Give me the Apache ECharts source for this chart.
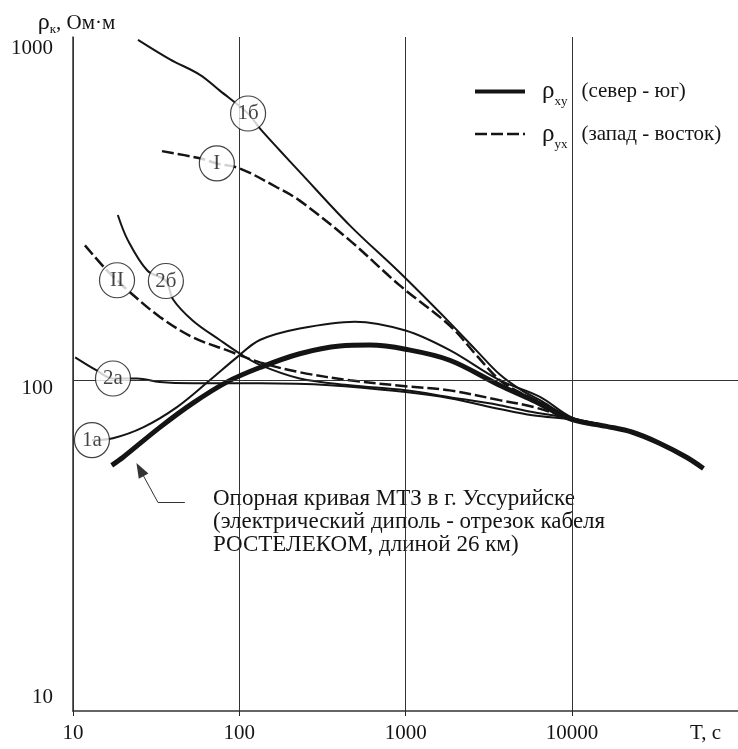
<!DOCTYPE html>
<html>
<head>
<meta charset="utf-8">
<title>Кривые МТЗ</title>
<script src="https://cdn.jsdelivr.net/npm/echarts@6/dist/echarts.min.js"></script>
<style>
    html, body {margin: 0; padding: 0; background: #fff;}
    #chart {width: 738px; height: 749px;}
</style>
</head>
<body>
<div id="chart"></div>
<script>
    var serif = '"Liberation Serif", "Times New Roman", serif';
    var ink = '#141414';

    // оси
    var xTicks = [10, 100, 1000, 10000];
    var yTicks = [10, 100, 1000];

    // кривые [T, c ; rho, Ом·м]
    var curveRef = [[17.1, 55.2], [20, 58.4], [33.3, 71.9], [52.6, 85.1], [84.1, 98.5], [133, 109], [231, 120],
        [403, 126.6], [610, 127.4], [1000, 123.8], [1845, 114.7], [3680, 96.4], [5800, 86.9], [10000, 76],
        [16200, 72.4], [23200, 69.5], [33700, 64.4], [49000, 58.4], [62000, 54]];
    var curve1a = [[13, 65.8], [17.4, 66.7], [26.4, 71.9], [42.2, 82.8], [66.5, 99.8], [96.8, 117], [133, 132],
        [231, 143], [495, 150], [1000, 141], [1845, 123], [3680, 99.8], [6400, 89], [10000, 77], [14700, 73.5]];
    var curve1b = [[24.6, 1065], [38.3, 930], [58, 835], [76.4, 748], [113, 638], [133, 575], [175, 494],
        [231, 425], [462, 293], [923, 211], [1845, 149], [2700, 122], [3680, 104], [5000, 93], [6400, 87],
        [10000, 76.5], [14700, 73.5]];
    var curve2a = [[10.3, 117], [13.8, 107], [17.4, 101], [24.3, 101], [33.3, 98.5], [52.6, 97.7], [133, 97.7],
        [351, 96.4], [1000, 91.9], [1845, 88.1], [3680, 81.7], [5800, 78.2], [10000, 76], [14700, 73.5]];
    var curve2b = [[18.6, 315], [21.4, 264], [28, 214], [36.2, 199], [40, 175], [52.6, 151], [76.4, 132],
        [101, 120], [133, 111], [231, 101], [462, 96.4], [1000, 93], [1845, 88.7], [3680, 83.9], [5800, 80],
        [10000, 76.5], [14700, 73.5]];
    var curveI = [[34.3, 491], [57, 468], [73.3, 451], [101, 435], [168, 382], [231, 348], [462, 264],
        [923, 193], [1845, 146], [2700, 118], [3680, 100], [5000, 91], [6400, 86], [10000, 76.5], [14700, 73.5]];
    var curveII = [[11.8, 255], [15.6, 217], [18.4, 200], [22, 184], [33.3, 155], [52.6, 134.5], [84.1, 123],
        [133, 113], [231, 105.5], [462, 99.8], [1000, 95.7], [1845, 93], [3680, 86.9], [5800, 83],
        [10000, 76.5], [14700, 73.5]];

    // подписи кривых в кружках
    var circleLabels = [[113, 638, '1б'], [73.3, 451, 'I'], [18.4, 200, 'II'], [36.2, 199, '2б'],
        [17.4, 101, '2а'], [13, 65.8, '1а']];

    // стрелка к опорной кривой
    var arrowTail = [[47.1, 42.7], [32.4, 42.7]];
    var arrowHead = [[32.4, 42.7], [25.3, 53.6]];

    var note = 'Опорная кривая МТЗ в г. Уссурийске\n(электрический диполь - отрезок кабеля\nРОСТЕЛЕКОМ, длиной 26 км)';

    var chart = echarts.init(document.getElementById('chart'));

    function curve(name, data, width, dashed) {
        return {
            name: name,
            type: 'line',
            xAxisIndex: 0,
            yAxisIndex: 0,
            data: data,
            symbol: 'none',
            smooth: 0.35,
            silent: true,
            z: 3,
            itemStyle: {color: ink},
            lineStyle: {color: ink, width: width, type: dashed ? [12, 4] : 'solid'}
        };
    }

    var refSeries = curve('xy', curveRef, 5, false);
    refSeries.markLine = {
        silent: true,
        symbol: ['none', 'none'],
        label: {show: false},
        lineStyle: {color: '#333', width: 1, type: 'solid'},
        data: [
            {yAxis: 100},
            [{coord: arrowTail[0]}, {coord: arrowTail[1]}],
            [{coord: arrowHead[0]}, {coord: arrowHead[1], symbol: 'triangle', symbolSize: [11, 15]}]
        ]
    };

    var option = {
        animation: false,
        backgroundColor: '#fff',
        grid: [
            {left: 73, right: 0, top: 37, bottom: 38},
            {left: 73, right: 166, top: 37, bottom: 38}
        ],
        legend: {
            left: 468,
            top: 74,
            orient: 'vertical',
            itemWidth: 50,
            itemHeight: 14,
            itemGap: 13,
            selectedMode: false,
            itemStyle: {opacity: 0},
            data: [
                {name: 'xy', lineStyle: {width: 4}},
                {name: 'yx', lineStyle: {width: 2.5, type: [12, 4]}}
            ],
            formatter: function (name) {
                return name === 'xy'
                    ? '{r|ρ}{s|xy}{t|(север - юг)}'
                    : '{r|ρ}{s|yx}{t|(запад - восток)}';
            },
            textStyle: {
                color: ink,
                rich: {
                    r: {fontFamily: serif, fontSize: 25, lineHeight: 34, color: ink, padding: [0, 0, 0, 12]},
                    s: {fontFamily: serif, fontSize: 13, lineHeight: 12, color: ink, verticalAlign: 'bottom'},
                    t: {fontFamily: serif, fontSize: 21, lineHeight: 34, color: ink, padding: [0, 0, 0, 14]}
                }
            }
        },
        xAxis: [
            {
                type: 'log',
                gridIndex: 0,
                min: 10,
                max: 100000,
                name: '{a|T, c}',
                nameLocation: 'end',
                nameGap: -48,
                nameTextStyle: {
                    align: 'left',
                    rich: {a: {fontFamily: serif, fontSize: 21, color: ink, padding: [44, 0, 0, 0]}}
                },
                axisLine: {lineStyle: {color: '#333', width: 1.5}},
                axisTick: {show: false},
                axisLabel: {show: false},
                splitLine: {show: false}
            },
            {
                type: 'log',
                gridIndex: 1,
                min: xTicks[0],
                max: xTicks[xTicks.length - 1],
                axisLine: {show: false},
                axisTick: {show: true, length: 5, lineStyle: {color: '#222', width: 1}},
                axisLabel: {
                    margin: 12,
                    fontFamily: serif,
                    fontSize: 21,
                    color: ink,
                    formatter: function (v) {
                        var r = Math.round(v);
                        return xTicks.indexOf(r) >= 0 ? String(r) : '';
                    }
                },
                splitLine: {show: true, lineStyle: {color: '#333', width: 1}}
            }
        ],
        yAxis: [
            {
                type: 'log',
                gridIndex: 0,
                min: 10,
                max: 1086,
                name: '{r|ρ}{s|к}{t|, Ом·м}',
                nameLocation: 'end',
                nameGap: 1,
                nameTextStyle: {
                    padding: [0, 0, 0, 7],
                    rich: {
                        r: {fontFamily: serif, fontSize: 24, lineHeight: 26, color: ink},
                        s: {fontFamily: serif, fontSize: 13, lineHeight: 12, color: ink, verticalAlign: 'bottom'},
                        t: {fontFamily: serif, fontSize: 21, lineHeight: 26, color: ink}
                    }
                },
                axisLine: {show: true, lineStyle: {color: '#333', width: 1.5}},
                axisTick: {show: false},
                splitLine: {show: false},
                axisLabel: {
                    margin: 20,
                    formatter: function (v) {
                        var r = Math.round(v);
                        if (r === yTicks[0]) return '{lo|' + r + '}';
                        if (r === yTicks[1]) return '{mid|' + r + '}';
                        if (r === yTicks[2]) return '{hi|' + r + '}';
                        return '';
                    },
                    rich: {
                        lo: {fontFamily: serif, fontSize: 21, color: ink, padding: [0, 0, 28, 0]},
                        mid: {fontFamily: serif, fontSize: 21, color: ink, padding: [18, 0, 0, 0]},
                        hi: {fontFamily: serif, fontSize: 21, color: ink}
                    }
                }
            },
            {
                type: 'log',
                gridIndex: 1,
                min: 10,
                max: 1086,
                show: false
            }
        ],
        graphic: [
            {
                type: 'text',
                left: 213,
                top: 487,
                silent: true,
                style: {
                    text: note,
                    fontFamily: serif,
                    fontSize: 23,
                    lineHeight: 23,
                    fill: ink
                }
            }
        ],
        series: [
            refSeries,
            curve('yx', curveI, 2.5, true),
            curve('II', curveII, 2.5, true),
            curve('1а', curve1a, 2, false),
            curve('1б', curve1b, 2, false),
            curve('2а', curve2a, 2, false),
            curve('2б', curve2b, 2, false),
            {
                name: 'labels',
                type: 'scatter',
                xAxisIndex: 0,
                yAxisIndex: 0,
                data: circleLabels,
                symbol: 'circle',
                symbolSize: 35,
                silent: true,
                z: 6,
                itemStyle: {color: '#fff', borderColor: ink, borderWidth: 1.2},
                label: {
                    show: true,
                    position: 'inside',
                    fontFamily: serif,
                    fontSize: 21,
                    color: ink,
                    formatter: function (p) { return p.value[2]; }
                }
            }
        ]
    };

    chart.setOption(option);

    window.onresize = function () {
        chart.resize();
    };
</script>
</body>
</html>
